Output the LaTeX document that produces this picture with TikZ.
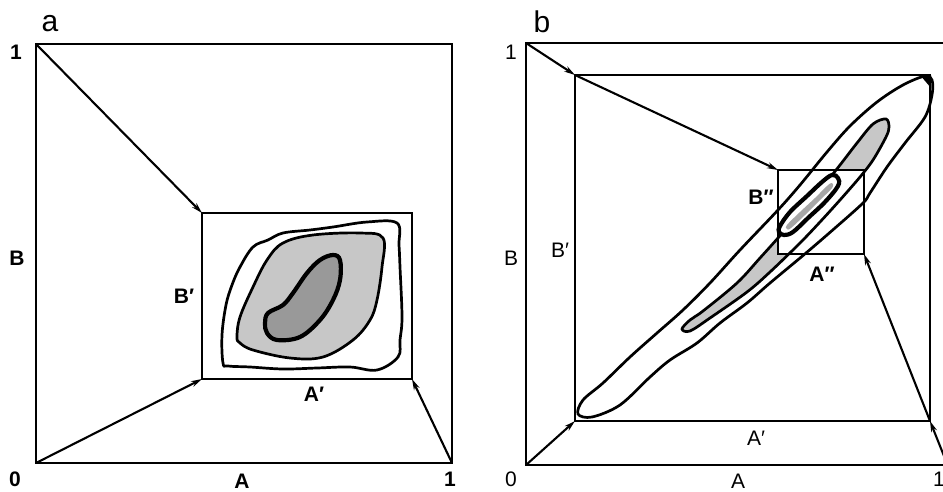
\documentclass[tikz,border=0pt]{standalone}
\usepackage{fontspec}
\setmainfont{Liberation Sans}
\usetikzlibrary{arrows.meta}
\begin{document}
\begin{tikzpicture}[x=1pt,y=-1pt,
  frame/.style={line width=2.8pt},
  boxline/.style={line width=2.2pt},
  arr/.style={line width=2.1pt,-{Stealth[length=11pt,width=6pt]}},
  contour/.style={line width=2.7pt},
  thickc/.style={line width=4.2pt},
  lightfill/.style={fill=black!22},
  darkfill/.style={fill=black!40},
  panel/.style={font=\fontsize{30}{30}\selectfont, inner sep=0pt},
  axb/.style={font=\fontsize{21}{21}\selectfont\bfseries, inner sep=0pt},
  axr/.style={font=\fontsize{21}{21}\selectfont, inner sep=0pt}]
\useasboundingbox (0,0) rectangle (943,491);
\fill[white] (0,0) rectangle (943,491);

% ---------------- panel a ----------------
\coordinate (a00) at (36,463);
\coordinate (a10) at (452,463);
\coordinate (a11) at (452,44);
\coordinate (a01) at (36,44);
\coordinate (ai00) at (202,379);
\coordinate (ai10) at (412,379);
\coordinate (ai11) at (412,213);
\coordinate (ai01) at (202,213);

% contours
\draw[contour] plot[smooth cycle, tension=0.6] coordinates {
  (223,363) (222,335) (226,305) (232,285) (240,267) (253,247) (268,240)
  (283,233) (310,230) (333,227) (367,222) (397,223) (399,245) (400,267)
  (402,317) (400,340) (398,357) (377,370) (350,367) (317,368) (283,369)
  (250,367) (228,366)};
\draw[contour,lightfill] plot[smooth cycle, tension=0.6] coordinates {
  (237,337) (240,317) (253,287) (267,260) (283,243) (313,235) (360,233)
  (383,238) (382,267) (377,300) (370,320) (353,340) (323,357) (290,358)
  (253,350) (240,343)};
\draw[thickc,darkfill] plot[smooth cycle, tension=0.6] coordinates {
  (265,323) (268,313) (283,305) (293,293) (307,273) (320,260) (333,255)
  (340,260) (340,280) (333,300) (320,320) (300,337) (277,340) (267,333)};

\draw[frame] (a00) rectangle (a11);
\draw[boxline] (ai00) rectangle (ai11);
\draw[arr] (a01) -- (ai01);
\draw[arr] (a00) -- (ai00);
\draw[arr] (a10) -- (ai10);

\node[panel] (la) at (50,24) {a};
\node[axb] (la1) at (16,52) {1};
\node[axb] (laB) at (17,258) {B};
\node[axb] (laBp) at (184,296) {B\char"2032};
\node[axb] (laAp) at (314,394) {A\char"2032};
\node[axb] (la0) at (15,479) {0};
\node[axb] (laA) at (242,481) {A};
\node[axb] (la1r) at (450,479) {1};

% ---------------- panel b ----------------
\coordinate (b00) at (526,465);
\coordinate (b10) at (948,466);
\coordinate (b01) at (526,43);
\coordinate (bi00) at (575,421);
\coordinate (bi10) at (930,421);
\coordinate (bi11) at (930,75);
\coordinate (bi01) at (575,75);
\coordinate (bii00) at (778,254);
\coordinate (bii10) at (864,254);
\coordinate (bii11) at (864,170);
\coordinate (bii01) at (778,170);

% middle loop fill (outside the small box)
\def\midloop{plot[smooth cycle, tension=0.55] coordinates {
  (682,329) (690,320) (703,311) (737,283) (760,258) (778,238) (800,213)
  (820,190) (840,165) (857,143) (873,124) (886,119) (889,127) (886,137)
  (873,160) (860,177) (840,200) (820,222) (800,243) (770,272) (747,292)
  (710,318) (690,331)}}
\fill[lightfill] \midloop;
\fill[white] (bii00) rectangle (bii11);

% outer loop
\draw[contour] plot[smooth cycle, tension=0.55] coordinates {
  (578,414) (583,400) (603,383) (630,357) (657,333) (683,310) (710,283)
  (740,250) (778,210) (800,185) (827,152) (850,126) (877,102) (903,85)
  (925,76) (932,80) (932,95) (925,117) (905,143) (887,167) (870,193)
  (863,203) (835,228) (806,253) (770,283) (747,303) (720,323) (697,343)
  (670,360) (650,377) (620,405) (592,417)};
\draw[contour] \midloop;
\fill (920,75) -- (931,75) -- (931,88) -- cycle;

\draw[boxline] (b00) rectangle (b10 |- b01);
\draw[boxline] (bi00) rectangle (bi11);
\draw[boxline] (bii00) rectangle (bii11);

% inner loop
\draw[thickc,fill=white] plot[smooth cycle, tension=0.6] coordinates {
  (780,226) (790,212) (807,196) (822,182) (832,175) (838,178) (838,186)
  (825,202) (808,218) (793,232) (784,235) (779,232)};
\fill[black!35] plot[smooth cycle, tension=0.6] coordinates {
  (787,225) (800,212) (815,198) (827,186) (832,183) (832,188) (820,200)
  (805,215) (791,228) (787,229)};

\draw[arr] (b01) -- (bi01);
\draw[arr] (b00) -- (bi00);
\draw[arr] (b10) -- (bi10);
\draw[arr] (bi01) -- (bii01);
\draw[arr] (bi10) -- (bii10);

\node[panel] (lb) at (542,22) {b};
\node[axr] (lb1) at (511,52) {1};
\node[axr] (lbB) at (511,258) {B};
\node[axr] (lbBp) at (560,250) {B\char"2032};
\node[axb] (lbBpp) at (761,197) {B\char"2033};
\node[axb] (lbApp) at (822,274) {A\char"2033};
\node[axr] (lbAp) at (756,438) {A\char"2032};
\node[axr] (lb0) at (511,479) {0};
\node[axr] (lbA) at (738,481) {A};
\node[axr] (lb1r) at (939,479) {1};
\end{tikzpicture}
\end{document}
